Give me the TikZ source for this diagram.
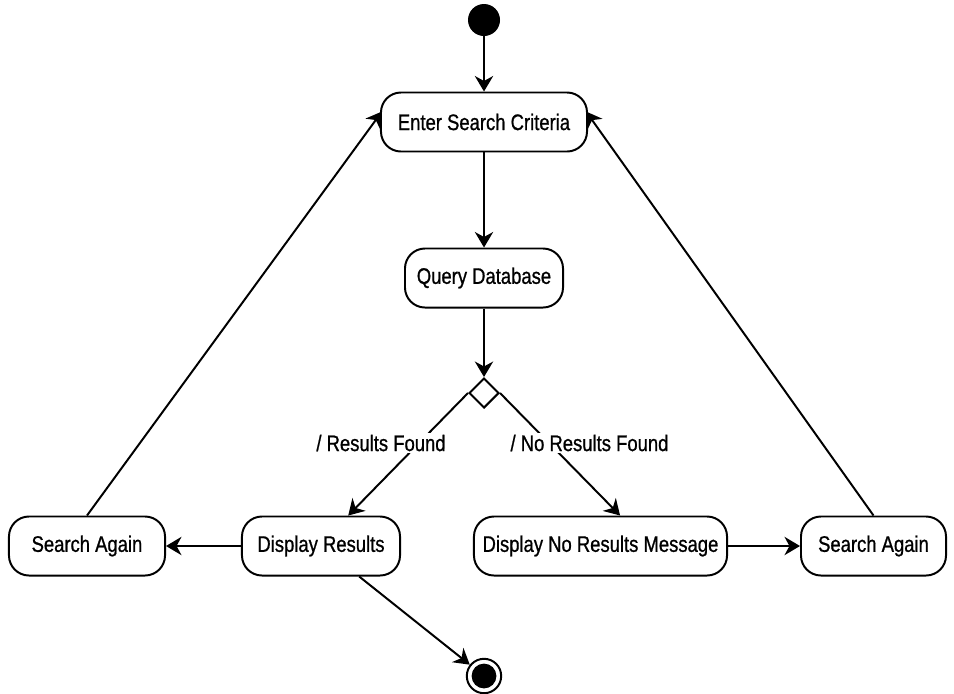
\documentclass[tikz,border=0pt]{standalone}
\usepackage{fontspec}
\setmainfont{Liberation Sans}[FakeStretch=0.82,FakeBold=0.8]
\usepackage{tikz}
\usetikzlibrary{arrows.meta,shapes.geometric,positioning}

\tikzset{
  state/.style={draw, line width=1.4pt, rounded corners=0.5cm, minimum height=1.475cm,
    align=center, font=\fontsize{16}{19}\selectfont},
  flow/.style={line width=1.4pt, -{Stealth[length=11pt,width=13pt,inset=3.5pt]}},
  guard/.style={fill=white, inner sep=1pt, font=\fontsize{16}{19}\selectfont}
}

\begin{document}
\begin{tikzpicture}[x=0.025cm, y=-0.025cm]
    \useasboundingbox (0,0) rectangle (954,693);
    % start and end
    \node[circle, fill=black, minimum size=0.8cm, inner sep=0] (start) at (484,20) {};
    \node[circle, draw, line width=1.4pt, minimum size=0.86cm, inner sep=0] (stop) at (484,676) {};
    \fill (stop) circle (0.31cm);
    % activities
    \node[state, minimum width=5.15cm] (enter) at (484,122) {Enter Search Criteria};
    \node[state, minimum width=3.95cm] (query) at (484,278) {Query Database};
    \node[diamond, draw, line width=1.4pt, minimum size=0.75cm, inner sep=0] (check) at (484,393) {};
    \node[state, minimum width=3.95cm] (results) at (321,546) {Display Results};
    \node[state, minimum width=6.325cm] (noresults) at (600.5,546) {Display No Results Message};
    \node[state, minimum width=3.9cm] (againL) at (87,546) {Search Again};
    \node[state, minimum width=3.625cm] (againR) at (873.5,546) {Search Again};
    % transitions
    \draw[flow] (start) -- (enter);
    \draw[flow] (enter) -- (query);
    \draw[flow] (query) -- (check);
    \draw[flow] (check.west) -- ([xshift=0.68cm]results.north);
    \draw[flow] (check.east) -- ([xshift=0.49cm]noresults.north);
    \draw[flow] (results) -- (againL);
    \draw[flow] (noresults) -- (againR);
    \draw[flow] (againL.north) -- ([shift={(0.05cm,-0.5cm)}]enter.north west);
    \draw[flow] (againR.north) -- ([shift={(-0.05cm,-0.5cm)}]enter.north east);
    \draw[flow] (results) -- (stop);
    % guards
    \node[guard] (found) at (381,443) {/ Results Found};
    \node[guard] (notfound) at (589.5,443) {/ No Results Found};
\end{tikzpicture}
\end{document}
